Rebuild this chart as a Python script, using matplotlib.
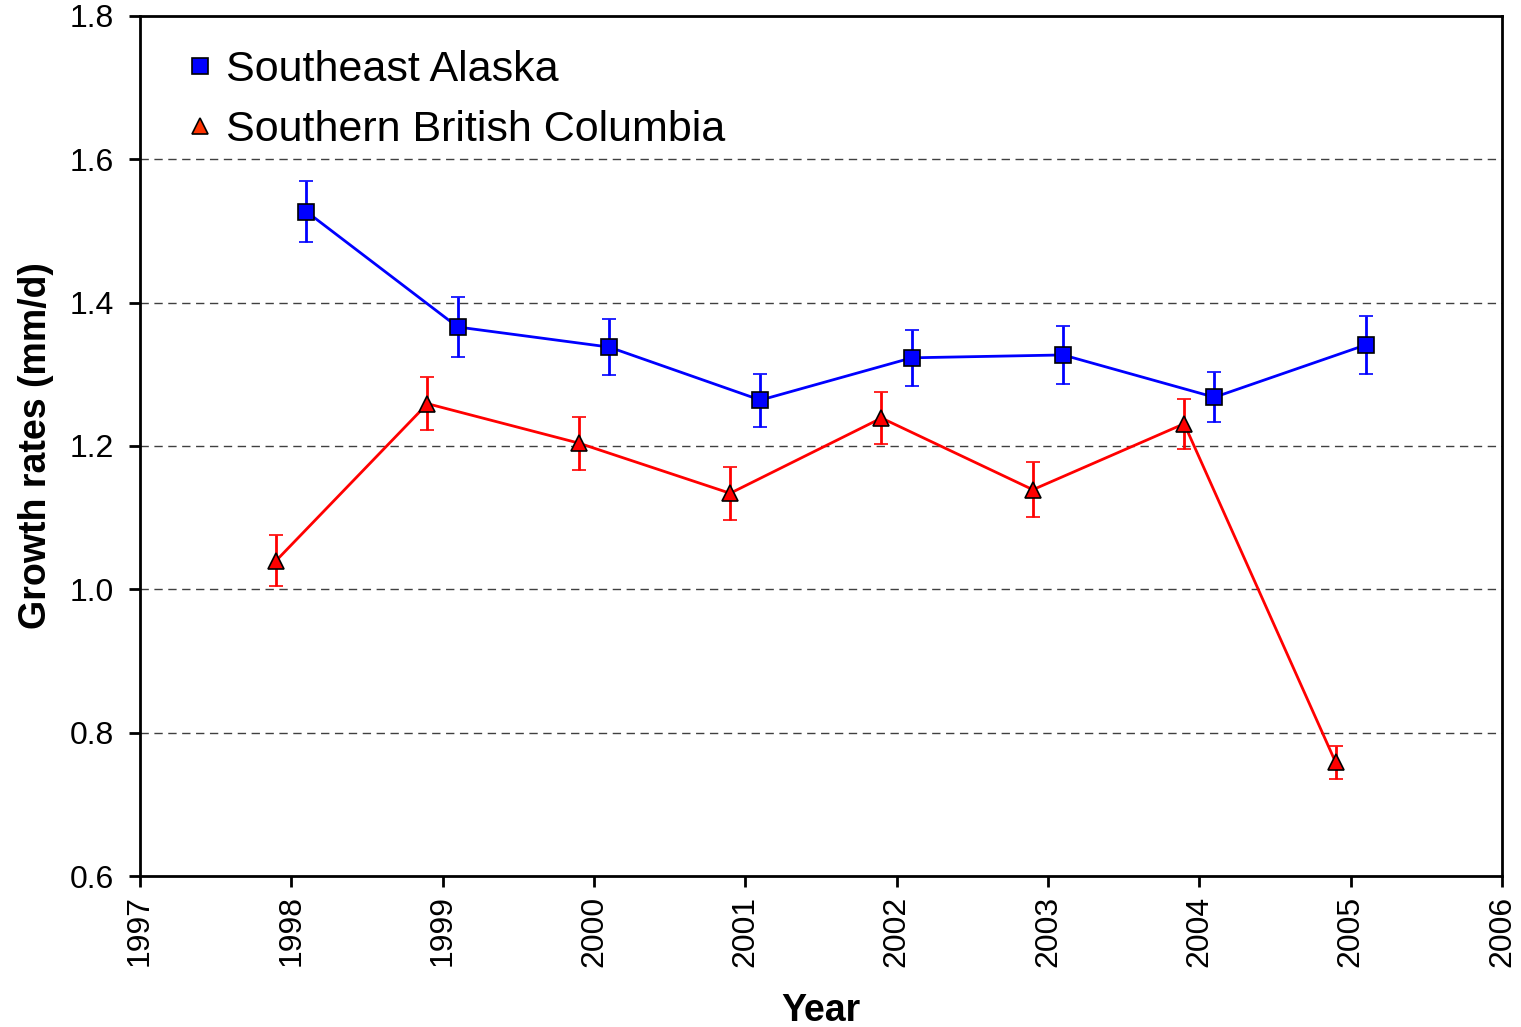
import numpy as np
import matplotlib
matplotlib.use('Agg')
import matplotlib.pyplot as plt
from matplotlib.lines import Line2D

plt.rcParams['font.family'] = ['Liberation Sans', 'DejaVu Sans']

# data
years = np.array([1998, 1999, 2000, 2001, 2002, 2003, 2004, 2005])
alaska = [1.527, 1.366, 1.338, 1.264, 1.323, 1.327, 1.268, 1.341]
alaska_err = [0.043, 0.042, 0.039, 0.037, 0.039, 0.040, 0.035, 0.040]
bc = [1.040, 1.259, 1.204, 1.134, 1.239, 1.139, 1.231, 0.759]
bc_err = [0.036, 0.037, 0.037, 0.037, 0.036, 0.038, 0.035, 0.023]

fig = plt.figure(figsize=(15.21, 10.27), dpi=100)
ax = fig.add_axes([0.092, 0.147, 0.8955, 0.8375])

ax.errorbar(years + 0.1, alaska, yerr=alaska_err, color='#0000ff', lw=2,
            marker='s', ms=11, mfc='#0000ff', mec='black', mew=1.2,
            ecolor='#0000ff', elinewidth=2, capsize=5, capthick=2, zorder=3)
ax.errorbar(years - 0.1, bc, yerr=bc_err, color='#ff0000', lw=2,
            marker='^', ms=12, mfc='#ff0000', mec='black', mew=1.2,
            ecolor='#ff0000', elinewidth=2, capsize=5, capthick=2, zorder=3)

ax.set_xlim(1997, 2006)
ax.set_ylim(0.6, 1.8)
ax.set_xticks(range(1997, 2007))
ax.set_xticklabels([str(y) for y in range(1997, 2007)], rotation=90)
ax.set_yticks(np.arange(0.6, 1.81, 0.2))
ax.set_yticklabels(['%.1f' % v for v in np.arange(0.6, 1.81, 0.2)])
ax.tick_params(labelsize=23, width=2, length=8, direction='out')
ax.tick_params(axis='x', pad=6)
ax.tick_params(axis='y', pad=11)

for v in [0.8, 1.0, 1.2, 1.4, 1.6]:
    ax.axhline(v, color='#404040', lw=1, ls=(0, (6, 4)), zorder=1)

for s in ax.spines.values():
    s.set_linewidth(2)

ax.set_xlabel('Year', fontsize=27, fontweight='bold', labelpad=19)
ax.set_ylabel('Growth rates (mm/d)', fontsize=27, fontweight='bold', labelpad=11)

# legend shows markers only
handles = [
    Line2D([], [], ls='none', marker='s', ms=11, mfc='#0000ff', mec='black', mew=1.2),
    Line2D([], [], ls='none', marker='^', ms=11, mfc='#ff3300', mec='black', mew=1.2),
]
labels = ['Southeast Alaska', 'Southern British Columbia']
ax.legend(handles, labels, loc='upper left', frameon=False, fontsize=31,
          handlelength=0.6, handletextpad=0.3, borderaxespad=0.4,
          labelspacing=0.45, markerscale=1.0, bbox_to_anchor=(0.0092, 1.0))

fig.savefig('out.png', dpi=100)
